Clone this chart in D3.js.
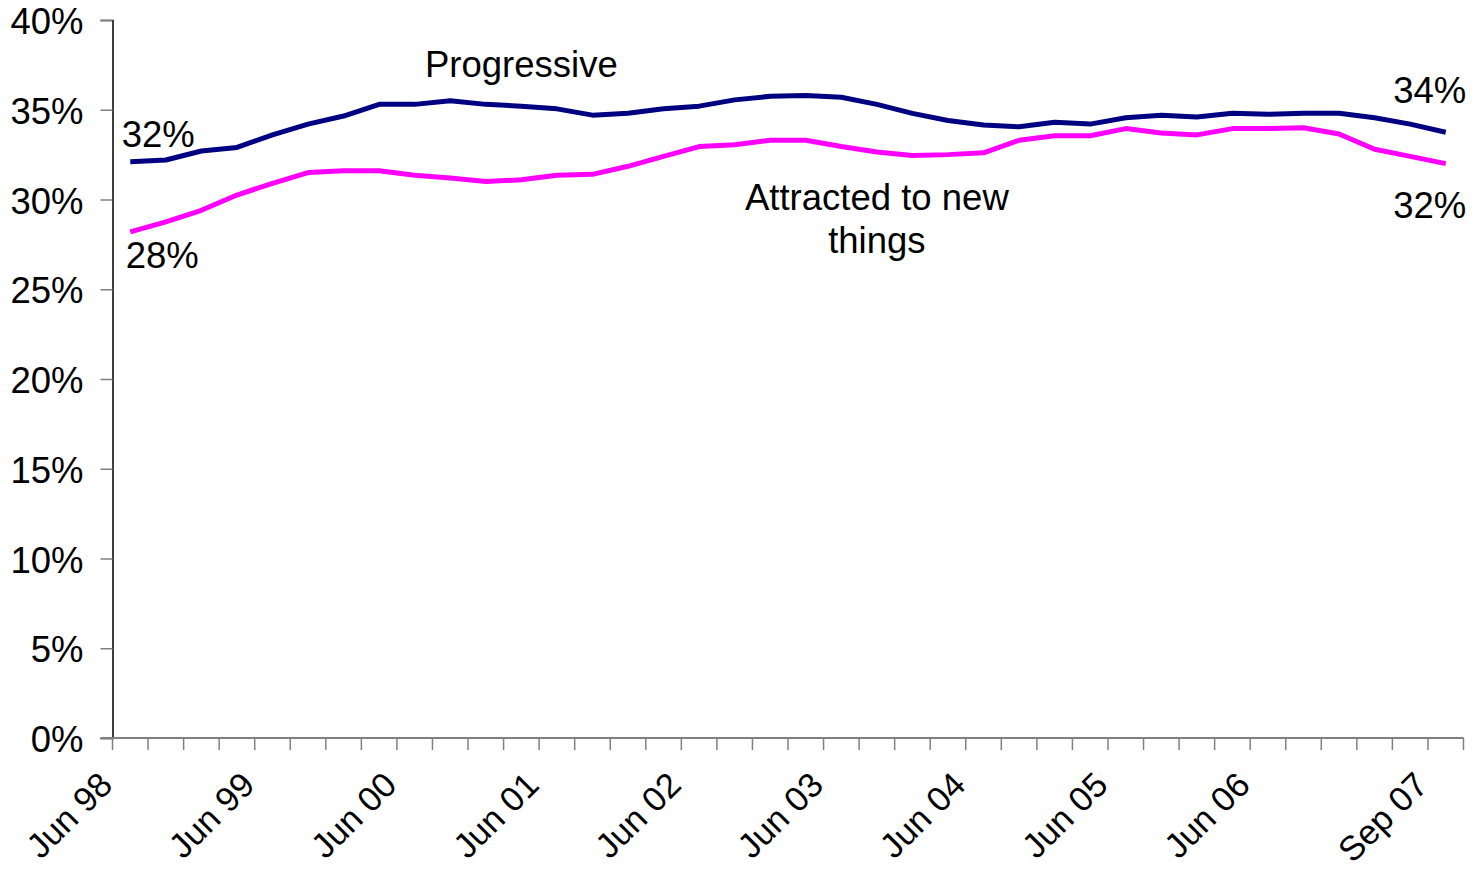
<!DOCTYPE html>
<html>
<head>
<meta charset="utf-8">
<script src="https://cdn.jsdelivr.net/npm/d3@7"></script>
<style>
  body { margin: 0; background: #fff; }
  text { font-family: "Liberation Sans", Arial, sans-serif; fill: #000; }
</style>
</head>
<body>
<div id="wrapper"></div>
<script>
// quarterly readings, Jun 98 .. Sep 07
const categories = [
    "Jun 98", "Sep 98", "Dec 98", "Mar 99", "Jun 99", "Sep 99", "Dec 99", "Mar 00",
    "Jun 00", "Sep 00", "Dec 00", "Mar 01", "Jun 01", "Sep 01", "Dec 01", "Mar 02",
    "Jun 02", "Sep 02", "Dec 02", "Mar 03", "Jun 03", "Sep 03", "Dec 03", "Mar 04",
    "Jun 04", "Sep 04", "Dec 04", "Mar 05", "Jun 05", "Sep 05", "Dec 05", "Mar 06",
    "Jun 06", "Sep 06", "Dec 06", "Mar 07", "Jun 07", "Sep 07"
];
const progressive = [
    32.1, 32.2, 32.7, 32.9, 33.6, 34.2, 34.65, 35.3, 35.3, 35.5, 35.3, 35.2, 35.05,
    34.7, 34.8, 35.05, 35.2, 35.55, 35.75, 35.8, 35.7, 35.3, 34.8, 34.4, 34.15,
    34.05, 34.3, 34.2, 34.55, 34.7, 34.6, 34.8, 34.75, 34.8, 34.8, 34.55, 34.2, 33.75
];
const attracted = [
    28.2, 28.75, 29.4, 30.25, 30.9, 31.5, 31.6, 31.6, 31.35, 31.2, 31.0, 31.1, 31.35,
    31.4, 31.85, 32.4, 32.95, 33.05, 33.3, 33.3, 32.95, 32.65, 32.45, 32.5, 32.6,
    33.3, 33.55, 33.55, 33.95, 33.7, 33.6, 33.95, 33.95, 34.0, 33.65, 32.8, 32.4, 32.0
];
const tickLabels = ["Jun 98", "Jun 99", "Jun 00", "Jun 01", "Jun 02", "Jun 03", "Jun 04", "Jun 05", "Jun 06", "Sep 07"];
const yTicks = [0, 5, 10, 15, 20, 25, 30, 35, 40];

const dimension = {
    width: 1479,
    height: 869,
    margin: { top: 20, left: 112.5, bottom: 131, right: 15.5 }
};
dimension.boundedWidth = dimension.width - dimension.margin.left - dimension.margin.right;
dimension.boundedHeight = dimension.height - dimension.margin.top - dimension.margin.bottom;

const fontSize = 36.5;

const svg = d3.select("#wrapper").append("svg")
    .attr("width", dimension.width)
    .attr("height", dimension.height);

const bounded = svg.append("g")
    .attr("transform", `translate(${dimension.margin.left}, ${dimension.margin.top})`);

const xScaler = d3.scaleBand()
    .domain(categories)
    .range([0, dimension.boundedWidth]);
const bw = xScaler.bandwidth();
const xc = (c) => xScaler(c) + bw / 2;

const yScaler = d3.scaleLinear()
    .domain([0, 40])
    .range([dimension.boundedHeight, 0]);

// y axis
const yAxis = bounded.append("g")
    .call(d3.axisLeft(yScaler).tickValues(yTicks).tickSize(12).tickPadding(17).tickFormat(d => d + "%"));
yAxis.select(".domain").attr("stroke", "#000").attr("stroke-width", 1.5);
yAxis.selectAll(".tick line").attr("stroke", "#808080").attr("stroke-width", 1.5);
yAxis.selectAll(".tick text")
    .attr("font-size", fontSize)
    .attr("font-family", "Liberation Sans, Arial, sans-serif")
    .attr("dy", "0.37em")
    .attr("fill", "#000");

// x axis, ticks between categories
const xAxis = bounded.append("g")
    .attr("transform", `translate(0, ${dimension.boundedHeight})`);
xAxis.append("line")
    .attr("x1", -12).attr("x2", dimension.boundedWidth)
    .attr("stroke", "#808080").attr("stroke-width", 2);
xAxis.selectAll("line.tick")
    .data(categories.map(c => xScaler(c)).concat([dimension.boundedWidth]))
    .join("line")
    .attr("class", "tick")
    .attr("x1", d => d).attr("x2", d => d)
    .attr("y1", 0).attr("y2", 12)
    .attr("stroke", "#808080").attr("stroke-width", 1.5);
xAxis.selectAll("text")
    .data(tickLabels)
    .join("text")
    .attr("transform", d => `translate(${xc(d) - 16}, 49) rotate(-45)`)
    .attr("text-anchor", "end")
    .attr("font-size", 34.5)
    .text(d => d);

// lines
const lineGen = (values) => d3.line()
    .x((d, i) => xc(categories[i]))
    .y(d => yScaler(d))(values);

bounded.append("path")
    .attr("d", lineGen(progressive))
    .attr("fill", "none")
    .attr("stroke", "#000080")
    .attr("stroke-width", 5)
    .attr("stroke-linejoin", "round");

bounded.append("path")
    .attr("d", lineGen(attracted))
    .attr("fill", "none")
    .attr("stroke", "#FF00FF")
    .attr("stroke-width", 5)
    .attr("stroke-linejoin", "round");

// end-point labels
const first = categories[0], last = categories[categories.length - 1];
const pointLabels = [
    { cat: first, v: progressive[0], dx: 28, dy: -15 },
    { cat: first, v: attracted[0], dx: 32, dy: 36 },
    { cat: last, v: progressive[progressive.length - 1], dx: -16, dy: -29 },
    { cat: last, v: attracted[attracted.length - 1], dx: -16, dy: 54 }
];
bounded.selectAll("text.pt")
    .data(pointLabels)
    .join("text")
    .attr("class", "pt")
    .attr("x", d => xc(d.cat) + d.dx)
    .attr("y", d => yScaler(d.v) + d.dy)
    .attr("text-anchor", "middle")
    .attr("font-size", fontSize)
    .text(d => Math.round(d.v) + "%");

// series names
bounded.append("text")
    .attr("x", xc(categories[11]))
    .attr("y", yScaler(36.8))
    .attr("text-anchor", "middle")
    .attr("font-size", fontSize)
    .text("Progressive");

const attrText = bounded.append("text")
    .attr("text-anchor", "middle")
    .attr("font-size", fontSize);
attrText.append("tspan")
    .attr("x", xc(categories[21]))
    .attr("y", yScaler(29.4))
    .text("Attracted to new");
attrText.append("tspan")
    .attr("x", xc(categories[21]))
    .attr("y", yScaler(27.0))
    .text("things");
</script>
</body>
</html>
